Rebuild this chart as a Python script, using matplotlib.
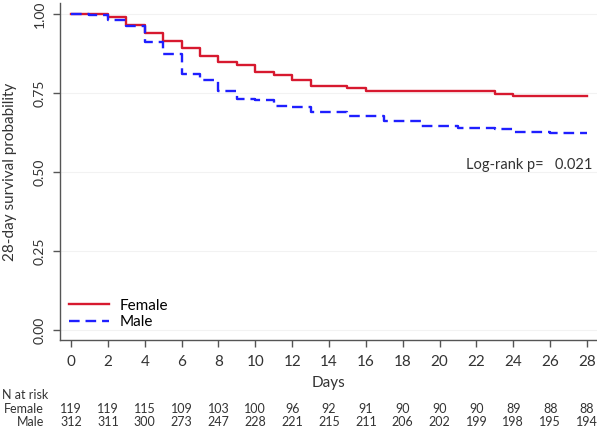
import numpy as np
import matplotlib
matplotlib.use("Agg")
import matplotlib.pyplot as plt
import matplotlib.transforms as mtransforms

plt.rcParams['font.family'] = ['Lato', 'DejaVu Sans']

# Kaplan-Meier steps
female_t = [0, 2, 3, 4, 5, 6, 7, 8, 9, 10, 11, 12, 13, 15, 16, 23, 24, 28]
female_s = [1.0, 0.992, 0.966, 0.941, 0.916, 0.891, 0.866, 0.849, 0.840, 0.815,
            0.807, 0.790, 0.773, 0.765, 0.756, 0.748, 0.739, 0.739]
male_t = [0, 1, 2, 3, 4, 5, 6, 7, 8, 9, 10, 11, 12, 13, 15, 17, 19, 21, 23, 24, 26, 28]
male_s = [1.0, 0.997, 0.981, 0.962, 0.910, 0.875, 0.811, 0.792, 0.756, 0.731,
          0.728, 0.708, 0.705, 0.689, 0.676, 0.660, 0.647, 0.638, 0.635, 0.625,
          0.622, 0.622]

risk_days = list(range(0, 29, 2))
female_risk = [119, 119, 115, 109, 103, 100, 96, 92, 91, 90, 90, 90, 89, 88, 88]
male_risk = [312, 311, 300, 273, 247, 228, 221, 215, 211, 206, 202, 199, 198, 195, 194]

red = '#d7192f'
blue = '#1f1fff'

fig = plt.figure(figsize=(5.97, 4.29), dpi=100)
ax = fig.add_axes([60/597, 89/429, 537/597, 337/429])

ax.step(female_t, female_s, where='post', color=red, lw=1.7, label='Female')
ax.step(male_t, male_s, where='post', color=blue, lw=1.7, dashes=(4.5, 2.5),
        label='Male')

ax.set_xlim(-0.6, 28.54)
ax.set_ylim(-0.032, 1.035)
ax.set_xticks(risk_days)
ax.set_yticks([0, 0.25, 0.5, 0.75, 1.0])
ax.set_yticklabels(['0.00', '0.25', '0.50', '0.75', '1.00'], rotation=90,
                   va='center', fontsize=10)
ax.tick_params(axis='x', labelsize=11, length=5, width=1, color='#555555', pad=6)
ax.tick_params(axis='y', length=5, width=1, color='#555555', pad=5)
for lab in ax.get_xticklabels() + ax.get_yticklabels():
    lab.set_color('#333333')

for s in ['top', 'right']:
    ax.spines[s].set_visible(False)
for s in ['left', 'bottom']:
    ax.spines[s].set_color('#555555')
    ax.spines[s].set_linewidth(1.0)
ax.grid(axis='y', color='#f2f2f2', lw=0.8)
ax.set_axisbelow(True)

ax.set_xlabel('Days', fontsize=11, color='#333333', labelpad=5)
ax.set_ylabel('28-day survival probability', fontsize=11, color='#333333',
              labelpad=12)

ax.legend(loc='upper left', bbox_to_anchor=(0.0, 0.15), frameon=False,
          fontsize=11, handlelength=2.6, handletextpad=0.7, labelspacing=0.15,
          borderaxespad=0.2)

ax.text(28.3, 0.522, 'Log-rank p=   0.021', ha='right', va='center',
        fontsize=10.5, color='#333333')

# risk table
trans = mtransforms.blended_transform_factory(ax.transData, fig.transFigure)
fig.text(2/597, 1 - 395/429, 'N at risk', ha='left', va='center', fontsize=9,
         color='#333333')
fig.text(44/597, 1 - 409/429, 'Female', ha='right', va='center', fontsize=9,
         color='#333333')
fig.text(44/597, 1 - 422/429, 'Male', ha='right', va='center', fontsize=9,
         color='#333333')
for d, f, m in zip(risk_days, female_risk, male_risk):
    ax.text(d, 1 - 409/429, str(f), transform=trans, ha='center', va='center',
            fontsize=9, color='#333333')
    ax.text(d, 1 - 422/429, str(m), transform=trans, ha='center', va='center',
            fontsize=9, color='#333333')

fig.savefig('out.png', dpi=100)
